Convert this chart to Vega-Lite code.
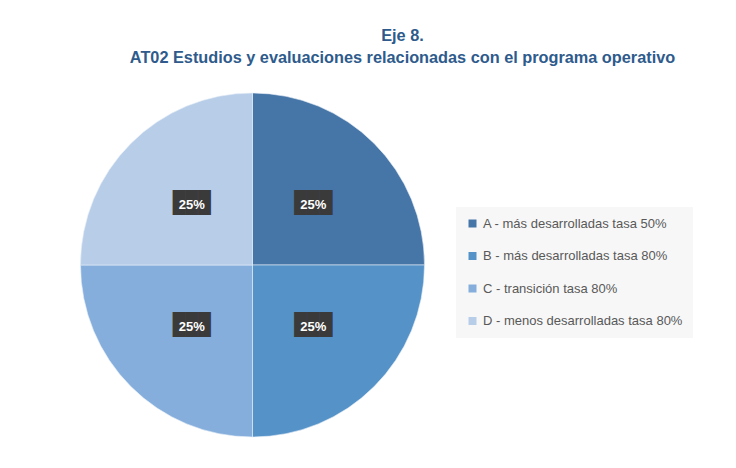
{
  "$schema": "https://vega.github.io/schema/vega-lite/v6.json",
  "width": 505,
  "height": 398,
  "autosize": {"type": "none"},
  "padding": {"left": 0, "top": 66, "right": 231, "bottom": 4},
  "background": "white",
  "title": {
    "text": ["Eje 8.", "AT02 Estudios y evaluaciones relacionadas con el programa operativo"],
    "anchor": "middle",
    "frame": "group",
    "dx": 150,
    "offset": 0,
    "font": "Liberation Sans",
    "fontSize": 16.3,
    "fontWeight": "bold",
    "color": "#2E5B8C",
    "lineHeight": 22
  },
  "data": {
    "values": [
      {"cat": "A - más desarrolladas tasa 50%", "value": 25, "label": "25%"},
      {"cat": "B - más desarrolladas tasa 80%", "value": 25, "label": "25%"},
      {"cat": "C - transición tasa 80%", "value": 25, "label": "25%"},
      {"cat": "D - menos desarrolladas tasa 80%", "value": 25, "label": "25%"}
    ]
  },
  "encoding": {
    "theta": {"field": "value", "type": "quantitative", "stack": true},
    "order": {"field": "cat", "type": "nominal", "sort": "ascending"},
    "color": {
      "field": "cat",
      "type": "nominal",
      "scale": {
        "domain": ["A - más desarrolladas tasa 50%", "B - más desarrolladas tasa 80%", "C - transición tasa 80%", "D - menos desarrolladas tasa 80%"],
        "range": ["#4675A8", "#5592C8", "#85AEDC", "#B8CDE8"]
      },
      "legend": {
        "title": null,
        "orient": "none",
        "legendX": 456,
        "legendY": 141,
        "fillColor": "#F7F7F7",
        "padding": 10,
        "symbolType": "square",
        "symbolSize": 64,
        "symbolStrokeWidth": 0,
        "labelFont": "Liberation Sans",
        "labelFontSize": 13,
        "labelLimit": 400,
        "labelColor": "#595959",
        "labelOffset": 4,
        "rowPadding": 18.5
      }
    }
  },
  "layer": [
    {
      "mark": {"type": "arc", "outerRadius": 172, "stroke": "#E6EEF7", "strokeWidth": 0.6}
    },
    {
      "mark": {"type": "text", "radius": 86, "text": "███", "font": "DejaVu Sans Mono", "fontSize": 21, "baseline": "middle", "align": "center"},
      "encoding": {"color": {"value": "#3A3A3A"}, "detail": {"field": "cat", "type": "nominal"}}
    },
    {
      "mark": {"type": "text", "radius": 86, "font": "Liberation Sans", "fontSize": 13, "fontWeight": "bold", "baseline": "middle", "align": "center", "dy": 1},
      "encoding": {"text": {"field": "label"}, "color": {"value": "#FFFFFF"}, "detail": {"field": "cat", "type": "nominal"}}
    }
  ]
}
